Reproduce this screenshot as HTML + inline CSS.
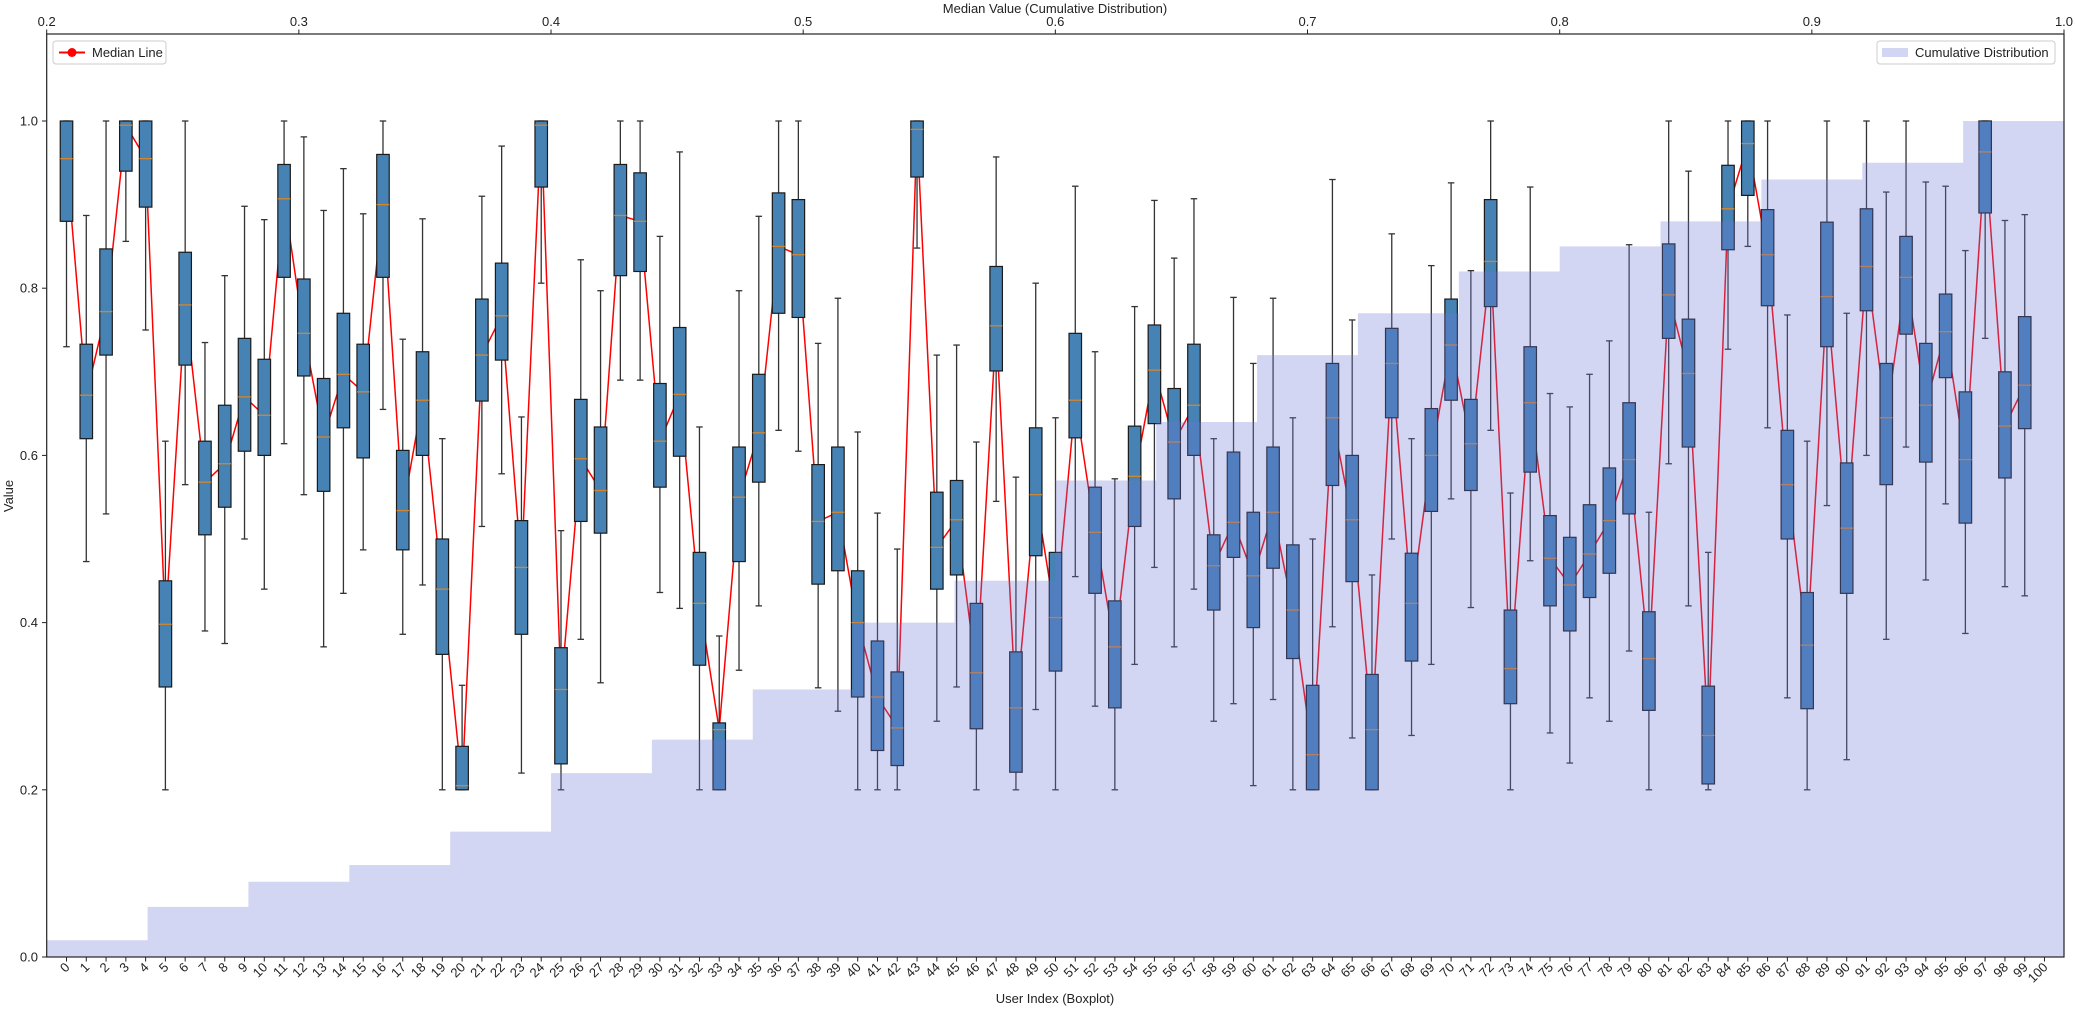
<!DOCTYPE html>
<html><head><meta charset="utf-8"><style>
html,body{margin:0;padding:0;background:#fff}
svg{display:block;font-family:"Liberation Sans","DejaVu Sans",sans-serif;}
text{fill:#222;font-size:13px}
</style></head><body>
<svg id="s" width="2075" height="1010" viewBox="0 0 2075 1010" xmlns="http://www.w3.org/2000/svg">
<rect x="0" y="0" width="2075" height="1010" fill="#fff"/>
<g id="content"></g>
<g id="bars"></g>
<rect x="46.7" y="34" width="2017.3" height="923" fill="none" stroke="#222" stroke-width="1.2"/>
<g id="yt">
<text class="yl" data-v="0">0.0</text><text class="yl" data-v="0.2">0.2</text><text class="yl" data-v="0.4">0.4</text><text class="yl" data-v="0.6">0.6</text><text class="yl" data-v="0.8">0.8</text><text class="yl" data-v="1">1.0</text>
</g>
<g id="tt">
<text class="tl" data-v="0.2">0.2</text><text class="tl" data-v="0.3">0.3</text><text class="tl" data-v="0.4">0.4</text><text class="tl" data-v="0.5">0.5</text><text class="tl" data-v="0.6">0.6</text><text class="tl" data-v="0.7">0.7</text><text class="tl" data-v="0.8">0.8</text><text class="tl" data-v="0.9">0.9</text><text class="tl" data-v="1">1.0</text>
</g>
<g id="xt">
<text class="xl">0</text><text class="xl">1</text><text class="xl">2</text><text class="xl">3</text><text class="xl">4</text><text class="xl">5</text><text class="xl">6</text><text class="xl">7</text><text class="xl">8</text><text class="xl">9</text>
<text class="xl">10</text><text class="xl">11</text><text class="xl">12</text><text class="xl">13</text><text class="xl">14</text><text class="xl">15</text><text class="xl">16</text><text class="xl">17</text><text class="xl">18</text><text class="xl">19</text>
<text class="xl">20</text><text class="xl">21</text><text class="xl">22</text><text class="xl">23</text><text class="xl">24</text><text class="xl">25</text><text class="xl">26</text><text class="xl">27</text><text class="xl">28</text><text class="xl">29</text>
<text class="xl">30</text><text class="xl">31</text><text class="xl">32</text><text class="xl">33</text><text class="xl">34</text><text class="xl">35</text><text class="xl">36</text><text class="xl">37</text><text class="xl">38</text><text class="xl">39</text>
<text class="xl">40</text><text class="xl">41</text><text class="xl">42</text><text class="xl">43</text><text class="xl">44</text><text class="xl">45</text><text class="xl">46</text><text class="xl">47</text><text class="xl">48</text><text class="xl">49</text>
<text class="xl">50</text><text class="xl">51</text><text class="xl">52</text><text class="xl">53</text><text class="xl">54</text><text class="xl">55</text><text class="xl">56</text><text class="xl">57</text><text class="xl">58</text><text class="xl">59</text>
<text class="xl">60</text><text class="xl">61</text><text class="xl">62</text><text class="xl">63</text><text class="xl">64</text><text class="xl">65</text><text class="xl">66</text><text class="xl">67</text><text class="xl">68</text><text class="xl">69</text>
<text class="xl">70</text><text class="xl">71</text><text class="xl">72</text><text class="xl">73</text><text class="xl">74</text><text class="xl">75</text><text class="xl">76</text><text class="xl">77</text><text class="xl">78</text><text class="xl">79</text>
<text class="xl">80</text><text class="xl">81</text><text class="xl">82</text><text class="xl">83</text><text class="xl">84</text><text class="xl">85</text><text class="xl">86</text><text class="xl">87</text><text class="xl">88</text><text class="xl">89</text>
<text class="xl">90</text><text class="xl">91</text><text class="xl">92</text><text class="xl">93</text><text class="xl">94</text><text class="xl">95</text><text class="xl">96</text><text class="xl">97</text><text class="xl">98</text><text class="xl">99</text>
<text class="xl">100</text>
</g>
<text x="1055" y="13" text-anchor="middle" style="font-size:13px">Median Value (Cumulative Distribution)</text>
<text x="1055" y="1003" text-anchor="middle" style="font-size:13px">User Index (Boxplot)</text>
<text transform="translate(13,496) rotate(-90)" text-anchor="middle" style="font-size:13px">Value</text>
<rect x="53" y="41" width="113" height="23" rx="3" fill="#fff" fill-opacity="0.85" stroke="#ccc"/>
<line x1="59" y1="52.5" x2="85" y2="52.5" stroke="#f00" stroke-width="2"/>
<circle cx="72" cy="52.5" r="4.5" fill="#f00"/>
<text x="92" y="57" style="font-size:13px">Median Line</text>
<rect x="1877" y="41" width="178" height="23" rx="3" fill="#fff" fill-opacity="0.85" stroke="#ccc"/>
<rect x="1882" y="48" width="26" height="9" fill="#d3d6f3"/>
<text x="1915" y="57" style="font-size:13px">Cumulative Distribution</text>
</svg>
<script>
(function(){
var NS="http://www.w3.org/2000/svg";
function Y(v){return 957-836*v;}
function X(i){return 66.5+19.78*i;}
function TX(v){return 46.7+(v-0.2)/0.8*2017.3;}
function el(p,n,a){var e=document.createElementNS(NS,n);for(var k in a)e.setAttribute(k,a[k]);p.appendChild(e);return e;}
var d=[[1,1,.955,.88,.73],[.887,.733,.672,.62,.473],[1,.847,.772,.72,.53],[1,1,.995,.94,.856],[1,1,.955,.897,.75],
[.617,.45,.398,.323,.2],[1,.843,.78,.708,.565],[.735,.617,.568,.505,.39],[.815,.66,.59,.538,.375],[.898,.74,.67,.605,.5],
[.882,.715,.648,.6,.44],[1,.948,.907,.813,.614],[.981,.811,.746,.695,.553],[.893,.692,.622,.557,.371],[.943,.77,.697,.633,.435],
[.889,.733,.676,.597,.487],[1,.96,.9,.813,.655],[.739,.606,.534,.487,.386],[.883,.724,.666,.6,.445],[.62,.5,.44,.362,.2],
[.325,.252,.205,.2,.2],[.91,.787,.72,.665,.515],[.97,.83,.767,.714,.578],[.646,.522,.466,.386,.22],[1,1,.995,.921,.806],
[.51,.37,.32,.231,.2],[.834,.667,.596,.521,.38],[.797,.634,.558,.507,.328],[1,.948,.887,.815,.69],[1,.938,.88,.82,.69],
[.862,.686,.617,.562,.436],[.963,.753,.673,.599,.417],[.634,.484,.423,.349,.2],[.384,.28,.272,.2,.2],[.797,.61,.55,.473,.343],
[.886,.697,.627,.568,.42],[1,.914,.85,.77,.63],[1,.906,.84,.765,.605],[.734,.589,.521,.446,.322],[.788,.61,.532,.462,.294],
[.628,.462,.4,.311,.2],[.531,.378,.311,.247,.2],[.488,.341,.274,.229,.2],[1,1,.99,.933,.848],[.72,.556,.49,.44,.282],
[.732,.57,.523,.457,.323],[.616,.423,.34,.273,.2],[.957,.826,.755,.701,.545],[.574,.365,.298,.221,.2],[.806,.633,.553,.48,.296],
[.645,.484,.406,.342,.2],[.922,.746,.666,.621,.455],[.724,.562,.508,.435,.3],[.572,.426,.371,.298,.2],[.778,.635,.575,.515,.35],
[.905,.756,.702,.638,.466],[.836,.68,.616,.548,.371],[.907,.733,.66,.6,.44],[.62,.505,.468,.415,.282],[.789,.604,.52,.478,.303],
[.71,.532,.456,.394,.205],[.788,.61,.532,.465,.308],[.645,.493,.415,.357,.2],[.5,.325,.242,.2,.2],[.93,.71,.645,.564,.395],
[.762,.6,.523,.449,.262],[.457,.338,.272,.2,.2],[.865,.752,.71,.645,.5],[.62,.483,.423,.354,.265],[.827,.656,.6,.533,.35],
[.926,.787,.732,.666,.548],[.821,.667,.614,.558,.418],[1,.906,.832,.778,.63],[.555,.415,.345,.303,.2],[.921,.73,.663,.58,.474],
[.674,.528,.477,.42,.268],[.658,.502,.445,.39,.232],[.697,.541,.482,.43,.31],[.737,.585,.522,.459,.282],[.852,.663,.595,.53,.366],
[.532,.413,.357,.295,.2],[1,.853,.792,.74,.59],[.94,.763,.698,.61,.42],[.484,.324,.265,.207,.2],[1,.947,.895,.846,.727],
[1,1,.973,.911,.85],[1,.894,.84,.779,.633],[.768,.63,.565,.5,.31],[.617,.436,.373,.297,.2],[1,.879,.79,.73,.54],
[.77,.591,.513,.435,.236],[1,.895,.826,.773,.6],[.915,.71,.645,.565,.38],[1,.862,.813,.745,.61],[.927,.734,.66,.592,.451],
[.922,.793,.748,.693,.542],[.845,.676,.595,.519,.387],[1,1,.963,.89,.74],[.881,.7,.635,.573,.443],[.888,.766,.684,.632,.432]];
var c=document.getElementById('content');
var pts=d.map(function(r,i){return X(i).toFixed(1)+','+Y(r[2]).toFixed(1);}).join(' ');
el(c,'polyline',{points:pts,fill:'none',stroke:'#f00','stroke-width':1.5});
d.forEach(function(r,i){el(c,'circle',{cx:X(i),cy:Y(r[2]),r:4,fill:'#f00'});});
var bw=12.5,cw=6.5;
d.forEach(function(r,i){
 var x=X(i);
 el(c,'line',{x1:x,x2:x,y1:Y(r[0]),y2:Y(r[1]),stroke:'#333','stroke-width':1.3});
 el(c,'line',{x1:x,x2:x,y1:Y(r[3]),y2:Y(r[4]),stroke:'#333','stroke-width':1.3});
 el(c,'line',{x1:x-cw/2,x2:x+cw/2,y1:Y(r[0]),y2:Y(r[0]),stroke:'#333','stroke-width':1.3});
 el(c,'line',{x1:x-cw/2,x2:x+cw/2,y1:Y(r[4]),y2:Y(r[4]),stroke:'#333','stroke-width':1.3});
 el(c,'rect',{x:x-bw/2,y:Y(r[1]),width:bw,height:Math.max(0.5,Y(r[3])-Y(r[1])),fill:'#4682b4',stroke:'#1a1a1a','stroke-width':1.2});
 el(c,'line',{x1:x-bw/2,x2:x+bw/2,y1:Y(r[2]),y2:Y(r[2]),stroke:'#d4862e','stroke-width':1.3});
});
var h=[.02,.06,.09,.11,.15,.22,.26,.32,.40,.45,.57,.64,.72,.77,.82,.85,.88,.93,.95,1.0];
var b=document.getElementById('bars');
var dd='';
h.forEach(function(v,k){var x1=TX(0.2+0.04*k),x2=TX(0.24+0.04*k);
 dd+='M'+x1.toFixed(2)+','+Y(v).toFixed(2)+'H'+x2.toFixed(2)+'V957H'+x1.toFixed(2)+'Z';});
el(b,'path',{d:dd,fill:'rgb(108,118,215)','fill-opacity':0.3});
var s=document.getElementById('s');
document.querySelectorAll('.yl').forEach(function(t){var v=+t.getAttribute('data-v');
 t.setAttribute('x',38);t.setAttribute('y',Y(v)+4.5);t.setAttribute('text-anchor','end');
 el(s,'line',{x1:42,x2:46.7,y1:Y(v),y2:Y(v),stroke:'#222'});});
document.querySelectorAll('.tl').forEach(function(t){var v=+t.getAttribute('data-v');
 t.setAttribute('x',TX(v));t.setAttribute('y',26);t.setAttribute('text-anchor','middle');
 el(s,'line',{x1:TX(v),x2:TX(v),y1:29.5,y2:34,stroke:'#222'});});
document.querySelectorAll('.xl').forEach(function(t,i){var x=X(i);
 t.setAttribute('text-anchor','end');t.setAttribute('transform','translate('+(x+4)+',968) rotate(-45)');
 el(s,'line',{x1:x,x2:x,y1:957,y2:961.5,stroke:'#222'});});
})();
</script>
</body></html>
